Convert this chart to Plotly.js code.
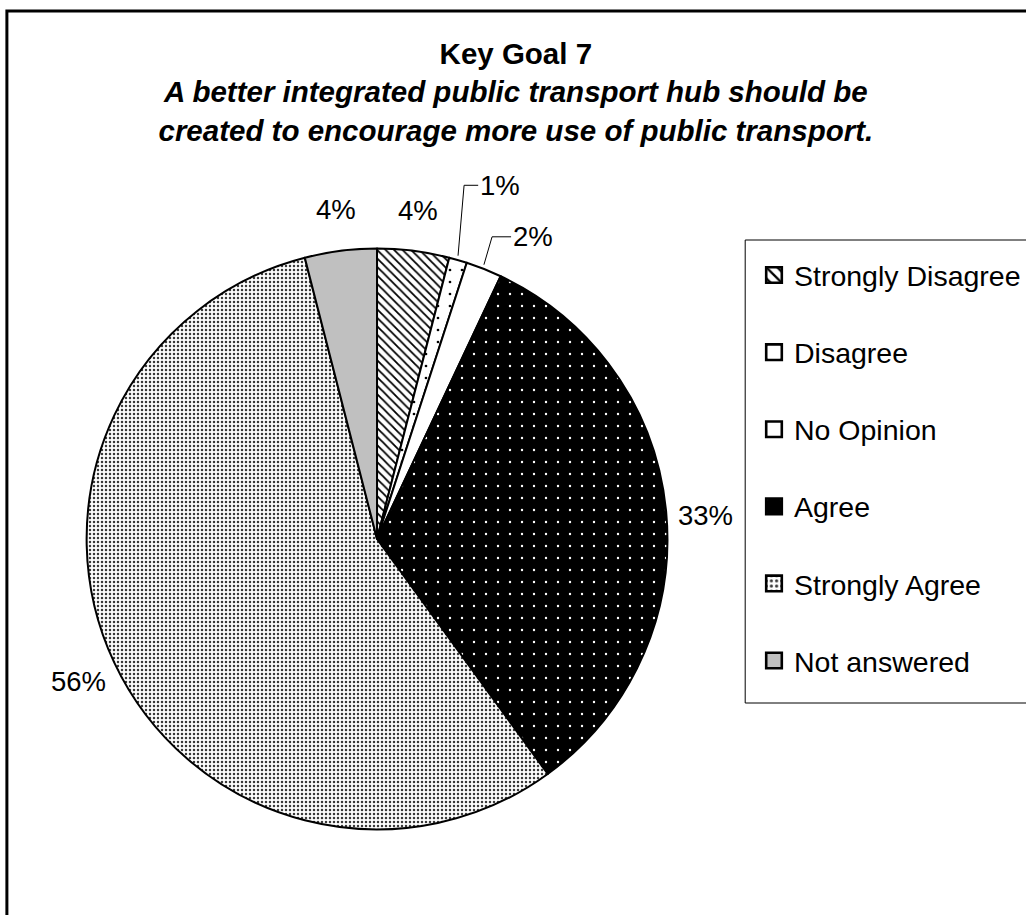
<!DOCTYPE html>
<html>
<head>
<meta charset="utf-8">
<script src="https://cdn.plot.ly/plotly-3.0.1.min.js"></script>
<style>
  html, body { margin: 0; padding: 0; background: #ffffff; }
  #chart { width: 1026px; height: 915px; }
</style>
</head>
<body>
<div id="chart"></div>
<script>
// ---- Data ----
const categories = ['Strongly Disagree', 'Disagree', 'No Opinion', 'Agree', 'Strongly Agree', 'Not answered'];
const percentValues = [4, 1, 2, 33, 56, 4];
const titleMain = 'Key Goal 7';
const titleSub1 = 'A better integrated public transport hub should be';
const titleSub2 = 'created to encourage more use of public transport.';

// ---- Styles ----
const patternShapes = ['\\', '.', '', '.', '.', ''];
const patternFg = ['#000000', '#000000', '#000000', '#ffffff', '#3a3a3a', '#000000'];
const patternBg = ['#ffffff', '#ffffff', '#ffffff', '#000000', '#ffffff', '#c0c0c0'];
const patternSize = [6, 12, 8, 12, 4, 8];
const patternSolidity = [0.3, 0.04, 0.3, 0.03, 0.3, 0.3];
const sliceColors = ['#ffffff', '#ffffff', '#ffffff', '#000000', '#d0d0d0', '#c0c0c0'];

// label placement styles (extra distance beyond the rim, angular nudge in degrees, leader line)
const labelExtra = [36, 80, 46, 40, 40, 37];
const labelNudgeDeg = [0, 3.2, 6, 1.3, 0, 0];
const labelLeader = [false, true, true, false, false, false];

const FONT = 'Liberation Sans, Arial, sans-serif';
const LABEL_SIZE = 27.5;
const W = 1026, H = 915;

// Pie geometry (pixels)
const cx = 383, cy = 539, r = 295;
const px2x = p => p / W;
const px2y = p => 1 - p / H;

const trace = {
  type: 'pie',
  labels: categories.map(c => c + '<br> '),
  values: percentValues,
  sort: false,
  direction: 'clockwise',
  rotation: 0,
  textinfo: 'none',
  hoverinfo: 'label+percent',
  marker: {
    colors: sliceColors,
    line: { color: '#000000', width: 2 },
    pattern: {
      shape: patternShapes,
      fgcolor: patternFg,
      bgcolor: patternBg,
      size: patternSize,
      solidity: patternSolidity,
      fillmode: 'replace'
    }
  },
  domain: {
    x: [(cx - r) / W, (cx + r) / W],
    y: [1 - (cy + r) / H, 1 - (cy - r) / H]
  },
  showlegend: true
};

// ---- Percentage labels derived from the data ----
const total = percentValues.reduce((a, b) => a + b, 0);
const annotations = [];
const shapes = [];
let cum = 0;
percentValues.forEach((v, i) => {
  const frac = v / total;
  const mid = cum + frac / 2;
  cum += frac;
  const theta = 2 * Math.PI * mid;
  const thetaL = theta + labelNudgeDeg[i] * Math.PI / 180;
  const dist = r + labelExtra[i];
  const lx = cx + dist * Math.sin(thetaL);
  const ly = cy - dist * Math.cos(thetaL);
  const txt = Math.round(frac * 100) + '%';
  annotations.push({
    xref: 'paper', yref: 'paper',
    x: px2x(lx), y: px2y(ly),
    xanchor: 'center', yanchor: 'middle',
    text: txt, showarrow: false,
    font: { family: FONT, size: LABEL_SIZE, color: '#000000' }
  });
  if (labelLeader[i]) {
    const ex = cx + r * Math.sin(theta);
    const ey = cy - r * Math.cos(theta);
    const textHalf = txt.length * LABEL_SIZE * 0.36;
    const endX = lx - textHalf - 2;
    const elbowX = ex + 0.3 * (endX - ex);
    shapes.push({
      type: 'path', xref: 'paper', yref: 'paper',
      path: 'M ' + px2x(ex) + ',' + px2y(ey) + ' L ' + px2x(elbowX) + ',' + px2y(ly) + ' L ' + px2x(endX) + ',' + px2y(ly),
      line: { color: '#000000', width: 1 }
    });
  }
});

// legend frame and outer chart frame
shapes.push({
  type: 'rect', xref: 'paper', yref: 'paper',
  x0: px2x(757), x1: 1.02, y0: px2y(703), y1: px2y(240),
  line: { color: '#000000', width: 1 }, fillcolor: 'rgba(0,0,0,0)', layer: 'below'
});
shapes.push({
  type: 'rect', xref: 'paper', yref: 'paper',
  x0: 7 / W, x1: 1.02, y0: -0.02, y1: 1 - 11 / H,
  line: { color: '#000000', width: 3 },
  fillcolor: 'rgba(0,0,0,0)',
  layer: 'above'
});

const layout = {
  width: W,
  height: H,
  margin: { l: 0, r: 0, t: 0, b: 0 },
  paper_bgcolor: '#ffffff',
  plot_bgcolor: '#ffffff',
  font: { family: FONT, color: '#000000' },
  title: {
    text: '<b>' + titleMain + '</b><br><b><i>' + titleSub1 + '</i></b><br><b><i>' + titleSub2 + '</i></b>',
    font: { family: FONT, size: 29.5, color: '#000000' },
    x: 524 / W,
    xanchor: 'center',
    xref: 'paper',
    y: 1 - 64 / H,
    yanchor: 'top',
    yref: 'container'
  },
  legend: {
    x: 766 / W,
    xanchor: 'left',
    y: 1 - 250 / H,
    yanchor: 'top',
    bgcolor: 'rgba(0,0,0,0)',
    borderwidth: 0,
    valign: 'top',
    font: { family: FONT, size: 28.5, color: '#000000' },
    traceorder: 'normal'
  },
  annotations: annotations,
  shapes: shapes
};

Plotly.newPlot('chart', [trace], layout, { displayModeBar: false, staticPlot: true }).then(gd => {
  // slightly larger legend swatches, as in the original
  gd.querySelectorAll('.legend .legendpoints path').forEach(p => {
    const t = p.getAttribute('transform') || '';
    p.setAttribute('transform', t + ' scale(1.3)');
  });
});
</script>
</body>
</html>
